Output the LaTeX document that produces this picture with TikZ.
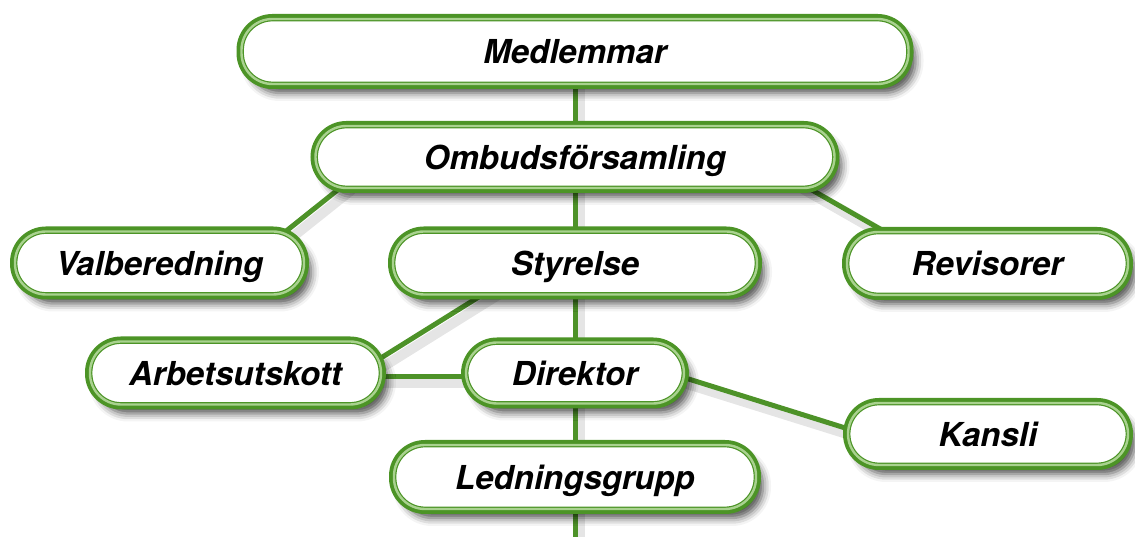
\documentclass[tikz,border=0pt]{standalone}
\usepackage{fontspec}
\setmainfont{TeX Gyre Heros}
\usetikzlibrary{calc,shadows.blur}
\definecolor{gborder}{HTML}{4C9426}
\definecolor{glight}{HTML}{A9D28F}
\definecolor{gline}{HTML}{4D9228}
\pgfdeclarelayer{background}
\pgfsetlayers{background,main}
\tikzset{
  box/.style={rectangle, rounded corners=31pt, inner sep=0pt, minimum height=63pt,
    text height=25pt, text depth=0pt,
    fill=white, draw=gborder, double=glight, line width=1.2pt, double distance=2.4pt,
    blur shadow={shadow xshift=7pt, shadow yshift=-9pt, shadow blur radius=8pt, shadow opacity=70},
    preaction={draw=gborder, line width=10pt},
    font=\bfseries\itshape\fontsize{33}{38}\selectfont, text=black},
  conn/.style={draw=gline, line width=5pt,
    preaction={draw=black, opacity=0.10, line width=10pt, transform canvas={shift={(5pt,-7pt)}}}},
}
\begin{document}
\begin{tikzpicture}[x=1pt,y=1pt]
\useasboundingbox (0,0) rectangle (1135,537);
\node[box, minimum width=667pt, minimum height=65pt] (med) at (575,485.5) {Medlemmar};
\node[box, minimum width=519pt, minimum height=62pt] (omb) at (575,380) {Ombudsförsamling};
\node[box, minimum width=289pt] (val) at (159.5,274) {Valberedning};
\node[box, minimum width=364pt] (sty) at (575,274) {Styrelse};
\node[box, minimum width=281pt] (rev) at (987.5,273.5) {Revisorer};
\node[box, minimum width=291pt] (arb) at (235.5,164) {Arbetsutskott};
\node[box, minimum width=218pt, minimum height=61pt] (dir) at (575,164) {Direktor};
\node[box, minimum width=280pt, minimum height=62pt] (kan) at (988,103) {Kansli};
\node[box, minimum width=362pt, minimum height=64pt] (led) at (575,60) {Ledningsgrupp};
\coordinate (bot) at (575,-10);
\begin{pgfonlayer}{background}
\path[conn] (med.center) -- (omb.center);
\path[conn] (omb.center) -- (sty.center);
\path[conn] (sty.center) -- (dir.center);
\path[conn] (dir.center) -- (led.center);
\path[conn] (led.center) -- (bot);
\path[conn] ($(omb.south west)+(32pt,6pt)$) -- ($(val.north east)+(-27pt,-7pt)$);
\path[conn] ($(omb.south east)+(-37pt,6.5pt)$) -- ($(rev.north west)+(45pt,-4pt)$);
\path[conn] ($(sty.south west)+(107pt,11pt)$) -- ($(arb.north east)+(-15pt,-26pt)$);
\path[conn] ($(arb.center)+(0,-3.5pt)$) -- ($(dir.center)+(0,-3.5pt)$);
\path[conn] ($(dir.east)+(-20pt,1.5pt)$) -- ($(kan.west)+(17pt,0pt)$);
\end{pgfonlayer}
\end{tikzpicture}
\end{document}
